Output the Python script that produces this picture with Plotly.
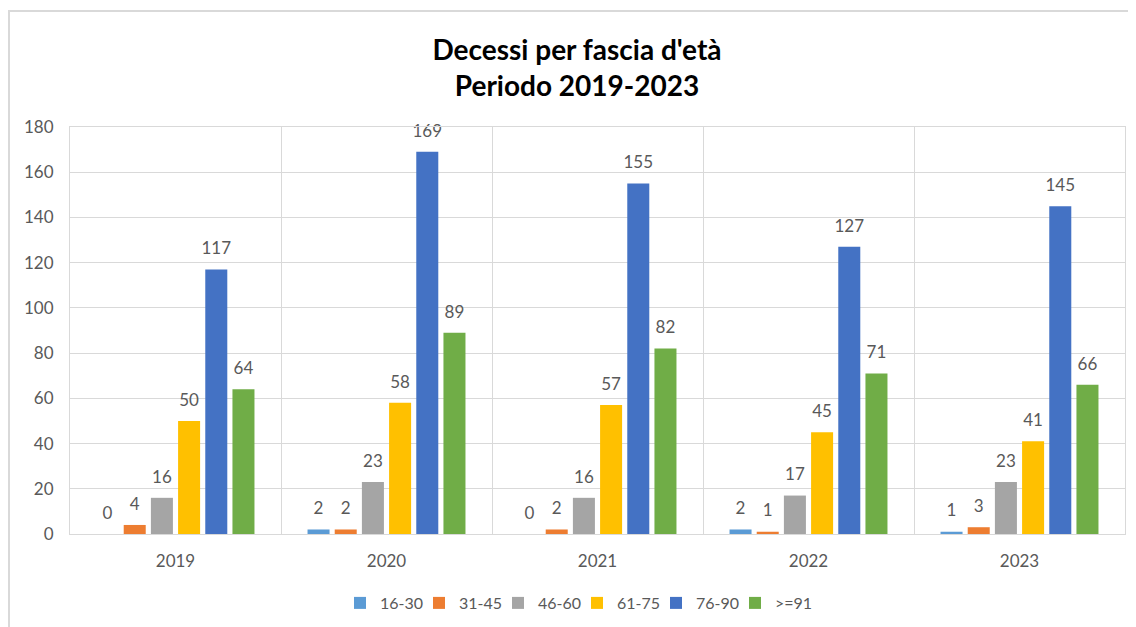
import plotly.graph_objects as go

years = ["2019", "2020", "2021", "2022", "2023"]
series_names = ["16-30", "31-45", "46-60", "61-75", "76-90", ">=91"]
v_16_30 = [0, 2, 0, 2, 1]
v_31_45 = [4, 2, 2, 1, 3]
v_46_60 = [16, 23, 16, 17, 23]
v_61_75 = [50, 58, 57, 45, 41]
v_76_90 = [117, 169, 155, 127, 145]
v_91 = [64, 89, 82, 71, 66]
colors = ["#5B9BD5", "#ED7D31", "#A5A5A5", "#FFC000", "#4472C4", "#70AD47"]

# the page body adds an 8px offset; the figure is sized to fit the window
W, H = 1128, 619
ml, mr, mt, mb = 62, 11, 119, 93
pw, ph = W - ml - mr, H - mt - mb

font_family = "Lato, 'Open Sans', sans-serif"
grey = "#595959"
BARGAP = 0.227

all_vals = [v_16_30, v_31_45, v_46_60, v_61_75, v_76_90, v_91]

fig = go.Figure()
for name, vals, col in zip(series_names, all_vals, colors):
    fig.add_trace(go.Bar(
        x=years, y=vals, name=name, marker=dict(color=col, line=dict(width=0)),
        hoverinfo="x+y+name",
    ))
for name, vals in zip(series_names, all_vals):
    fig.add_trace(go.Scatter(
        x=years, y=vals, mode="markers+text", text=[str(v) for v in vals],
        textposition="top center", cliponaxis=False, showlegend=False,
        marker=dict(size=16, color="rgba(0,0,0,0)"), hoverinfo="skip",
        textfont=dict(size=17, color=grey, family=font_family), name=name,
    ))

def px_x(p):
    return (p - ml) / pw

def px_y(p):
    return (H - mb - p) / ph

fig.update_layout(
    width=W, height=H,
    margin=dict(l=ml, r=mr, t=mt, b=mb, autoexpand=False),
    paper_bgcolor="white", plot_bgcolor="white",
    barmode="group", bargap=BARGAP, bargroupgap=0.19,
    scattermode="group", scattergap=BARGAP,
    font=dict(family=font_family, color=grey),
    title=dict(
        text="<b>Decessi per fascia d'età<br>Periodo 2019-2023</b>",
        x=569 / W, xref="container", xanchor="center",
        y=1 - 52 / H, yref="container", yanchor="middle",
        font=dict(size=28, color="#000000", family=font_family),
    ),
    xaxis=dict(
        type="category", tickson="boundaries", showgrid=True, gridcolor="#d9d9d9", gridwidth=1,
        showline=True, linecolor="#d9d9d9", linewidth=1, mirror=True,
        ticks="", tickfont=dict(size=17, color=grey), ticklabelstandoff=12,
    ),
    yaxis=dict(
        range=[0, 180], dtick=20, showgrid=True, gridcolor="#d9d9d9", gridwidth=1,
        showline=True, linecolor="#d9d9d9", linewidth=1, mirror=True,
        zeroline=False, ticks="", tickfont=dict(size=17, color=grey), ticklabelstandoff=12,
    ),
    legend=dict(
        orientation="h", x=px_x(569), xanchor="center", y=px_y(595), yanchor="middle",
        font=dict(size=16, color=grey), entrywidth=34, entrywidthmode="pixels",
        traceorder="normal",
    ),
    showlegend=True,
    shapes=[dict(
        type="rect", xref="paper", yref="paper",
        x0=px_x(1), x1=px_x(1145), y0=px_y(640), y1=px_y(3),
        line=dict(color="#d9d9d9", width=2), fillcolor="rgba(0,0,0,0)", layer="below",
    )],
)

fig.write_html("out.html")
